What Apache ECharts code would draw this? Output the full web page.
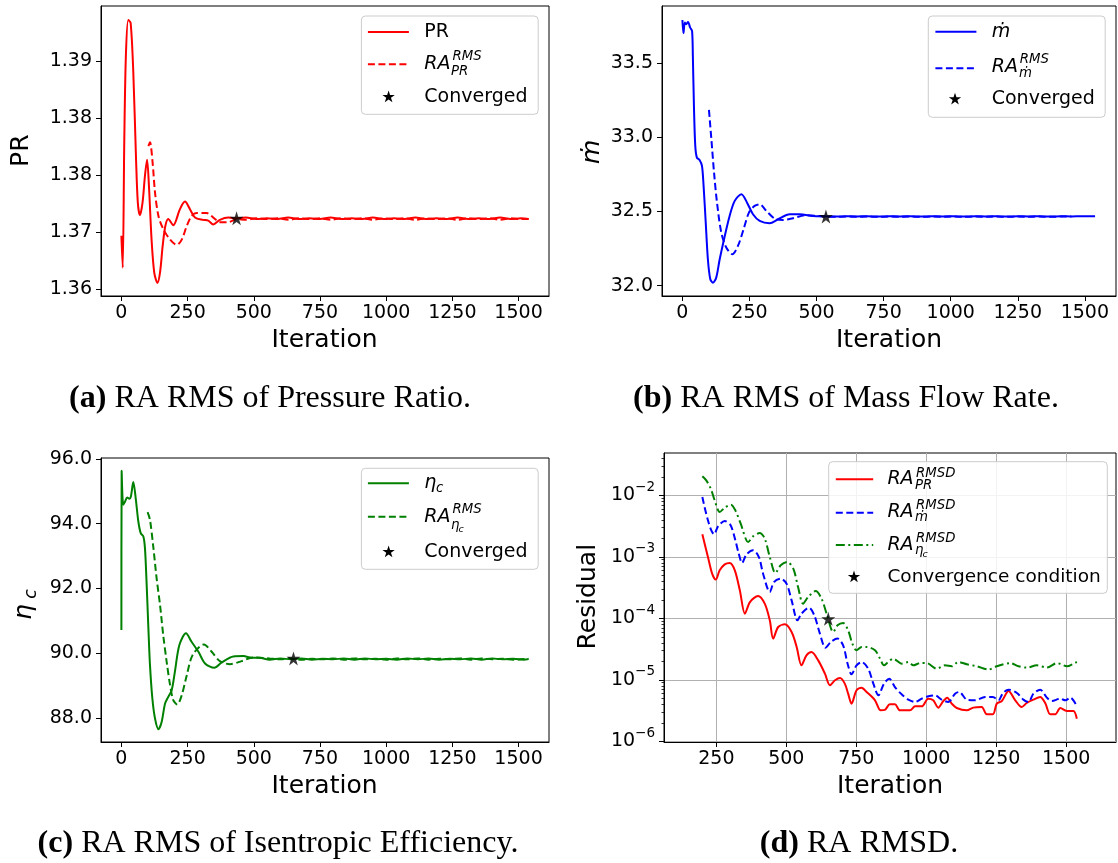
<!DOCTYPE html>
<html><head><meta charset="utf-8">
<script src="https://cdn.jsdelivr.net/npm/echarts@6/dist/echarts.min.js"></script>
<style>html,body{margin:0;padding:0;background:#fff}#c{width:1118px;height:863px}</style>
</head><body><div id="c"></div>
<script>
// ---------- (a) Pressure ratio ----------
const prIter = [0,5,11,17,26,35,45,55,62,70,80,89,97,104,114,124,136,146,156,166,177,196,221,240,259,278,309,328,347,372,404,433,
  470,510,550,590,630,670,710,750,790,830,870,910,950,990,1030,1070,1110,1150,1190,1230,1270,1310,1350,1390,1430,1470,1510,1538];
const prVal = [1.3670,1.3628,1.3797,1.3907,1.3954,1.3950,1.3885,1.3775,1.3714,1.3697,1.3714,1.3749,1.3770,1.3736,1.3665,1.3622,1.3608,1.3622,1.3657,1.3683,1.3692,1.3684,1.3705,1.3715,1.3705,1.3694,1.3691,1.3690,1.3685,1.3691,1.3694,1.3693,
  1.3694,1.3692,1.3693,1.3692,1.3694,1.3692,1.3693,1.3692,1.3694,1.3692,1.3693,1.3692,1.3694,1.3692,1.3693,1.3692,1.3694,1.3692,1.3693,1.3692,1.3694,1.3692,1.3693,1.3692,1.3694,1.3692,1.3693,1.3692];
const raPrIter = [102,108,118,127,140,158,184,209,228,247,265,284,322,347,372,404,436,
  470,510,550,590,630,670,710,750,790,830,870,910,950,990,1030,1070,1110,1150,1190,1230,1270,1310,1350,1390,1430,1470,1510,1538];
const raPrVal = [1.3788,1.3793,1.3766,1.3727,1.3696,1.3679,1.3665,1.3658,1.3665,1.3683,1.3696,1.3700,1.3700,1.3694,1.3688,1.3688,1.3692,
  1.3691,1.3693,1.3692,1.3693,1.3691,1.3693,1.3692,1.3693,1.3691,1.3693,1.3692,1.3693,1.3691,1.3693,1.3692,1.3693,1.3691,1.3693,1.3692,1.3693,1.3691,1.3693,1.3692,1.3693,1.3691,1.3693,1.3692,1.3692];
const prConverged = [435, 1.3693];
const prTicks = [1.36, 1.3675, 1.375, 1.3825, 1.39];
const prTickLabels = ['1.36', '1.37', '1.38', '1.38', '1.39'];

// ---------- (b) Mass flow rate ----------
const mIter = [0,4,9,14,21,29,36,39,43,48,54,64,73,79,87,95,104,114,126,139,158,176,195,220,241,263,288,325,357,400,437,487,
  530,570,610,650,690,730,770,810,850,890,930,970,1010,1050,1090,1130,1170,1210,1250,1290,1330,1370,1410,1450,1490,1538];
const mVal = [33.793,33.703,33.775,33.764,33.779,33.741,33.719,33.55,33.213,32.943,32.864,32.848,32.808,32.673,32.425,32.178,32.043,32.02,32.054,32.178,32.335,32.47,32.572,32.617,32.56,32.482,32.437,32.421,32.448,32.482,32.482,32.47,
  32.468,32.466,32.468,32.467,32.468,32.466,32.468,32.467,32.468,32.466,32.468,32.467,32.468,32.466,32.468,32.467,32.468,32.466,32.468,32.467,32.468,32.466,32.468,32.467,32.468,32.468];
const raMIter = [99,108,118,129,145,164,186,207,228,248,269,288,313,344,375,412,462,506,
  530,570,610,650,690,730,770,810,850,890,930,970,1010,1050,1090,1130,1170,1210,1250,1290,1330,1370,1410,1450,1490,1538];
const raMVal = [33.186,32.988,32.762,32.56,32.358,32.256,32.212,32.268,32.38,32.493,32.538,32.549,32.504,32.452,32.443,32.455,32.475,32.47,
  32.466,32.465,32.466,32.465,32.466,32.465,32.466,32.465,32.466,32.465,32.466,32.465,32.466,32.465,32.466,32.465,32.466,32.465,32.466,32.465,32.466,32.465,32.466,32.466];
const mConverged = [535, 32.466];
const mTicks = [32.0, 32.5, 33.0, 33.5];
const mTickLabels = ['32.0', '32.5', '33.0', '33.5'];

// ---------- (c) Isentropic efficiency ----------
const etaIter = [0,1,7,14,22,30,36,45,54,64,73,83,89,95,102,108,117,127,140,152,165,177,190,202,219,244,265,291,316,351,379,423,461,492,521,
  560,600,640,680,720,760,800,840,880,920,960,1000,1040,1080,1120,1160,1200,1240,1280,1320,1360,1400,1440,1480,1520,1538];
const etaVal = [90.72,95.64,94.585,94.687,94.811,94.771,94.842,95.288,94.792,94.068,93.709,93.604,93.245,92.21,90.768,89.632,88.6,87.981,87.65,87.876,88.446,88.65,88.858,89.424,90.251,90.613,90.353,90.043,89.684,89.548,89.715,89.901,89.91,89.858,89.858,
  89.80,89.84,89.81,89.84,89.80,89.83,89.81,89.84,89.80,89.84,89.81,89.83,89.80,89.84,89.81,89.84,89.80,89.83,89.81,89.84,89.80,89.84,89.81,89.83,89.80,89.82];
const raEtaIter = [99,108,121,133,146,158,171,184,196,211,228,247,269,312,341,372,410,454,498,
  560,600,640,680,720,760,800,840,880,920,960,1000,1040,1080,1120,1160,1200,1240,1280,1320,1360,1400,1440,1480,1520,1538];
const raEtaVal = [94.359,94.121,93.245,92.316,91.489,90.56,89.734,89.012,88.548,88.415,88.703,89.322,89.941,90.272,90.043,89.755,89.662,89.755,89.869,
  89.84,89.81,89.84,89.80,89.83,89.81,89.84,89.80,89.84,89.81,89.83,89.80,89.84,89.81,89.84,89.80,89.83,89.81,89.84,89.80,89.84,89.81,89.83,89.80,89.82,89.83];
const etaConverged = [650, 89.84];
const etaTicks = [88, 90, 92, 94, 96];
const etaTickLabels = ['88.0', '90.0', '92.0', '94.0', '96.0'];

// ---------- (d) RA RMSD residuals ----------
const rmsdPrIter = [200,220,235,248,262,280,298,316,334,352,370,399,423,441,453,471,495,519,537,554,572,590,614,638,656,674,692,709,721,733,751,769,787,817,837,852,870,888,906,942,960,984,1007,1025,1043,1061,1075,1091,1109,1145,1168,1198,1216,1238,1252,1270,1294,1318,1341,1359,1383,1407,1425,1443,1461,1479,1502,1526,1538];
const rmsdPrVal = [2.32e-3,9.93e-4,5.32e-4,4.26e-4,6.03e-4,7.55e-4,7.94e-4,6.03e-4,2.85e-4,1.19e-4,1.84e-4,2.31e-4,1.73e-4,9.27e-5,4.68e-5,7.23e-5,7.98e-5,5.98e-5,3.42e-5,1.72e-5,2.5e-5,2.83e-5,2.07e-5,1.26e-5,8.15e-6,9.82e-6,1.07e-5,8.67e-6,5.96e-6,4.1e-6,6.75e-6,7.46e-6,6.34e-6,4.65e-6,3.19e-6,3.24e-6,4.0e-6,4.0e-6,3.19e-6,3.19e-6,3.71e-6,3.71e-6,4.94e-6,4.65e-6,3.53e-6,4.53e-6,5.13e-6,4.1e-6,3.48e-6,3.19e-6,3.53e-6,3.61e-6,2.75e-6,2.75e-6,4.1e-6,4.53e-6,6.58e-6,4.65e-6,3.61e-6,4.2e-6,4.76e-6,5.26e-6,4.2e-6,2.75e-6,2.75e-6,3.48e-6,3.11e-6,3.11e-6,2.33e-6];
const rmsdMIter = [200,208,220,232,242,256,280,301,318,330,342,358,381,402,417,441,456,480,501,519,540,554,581,600,620,640,659,683,703,719,733,751,769,793,811,829,849,868,888,912,936,960,984,1008,1031,1055,1079,1103,1118,1145,1175,1210,1238,1258,1274,1294,1324,1347,1365,1383,1407,1431,1449,1479,1497,1515,1538];
const rmsdMVal = [9.4e-3,6.46e-3,3.92e-3,2.7e-3,2.32e-3,3.13e-3,3.83e-3,3.25e-3,1.85e-3,1.13e-3,7.94e-4,1.1e-3,1.28e-3,9.93e-4,5.32e-4,2.68e-4,3.89e-4,4.42e-4,3.66e-4,1.96e-4,9.27e-5,1.19e-4,1.49e-4,1.12e-4,5.64e-5,3.33e-5,4.12e-5,4.68e-5,3.64e-5,1.83e-5,1.23e-5,1.72e-5,1.95e-5,1.51e-5,8.67e-6,5.6e-6,8.67e-6,1.04e-5,7.64e-6,5.81e-6,4.76e-6,4.36e-6,4.94e-6,5.4e-6,5.6e-6,4.76e-6,4.36e-6,5.96e-6,6.34e-6,4.76e-6,4.65e-6,5.26e-6,5.26e-6,4.65e-6,6.1e-6,6.92e-6,6.1e-6,4.76e-6,4.36e-6,5.96e-6,6.92e-6,5.13e-6,4.53e-6,4.94e-6,4.65e-6,5.13e-6,3.71e-6];
const rmsdEtaIter = [200,214,230,244,262,280,302,318,337,364,381,405,423,441,461,480,504,525,542,560,578,605,626,644,668,683,703,721,736,751,769,787,817,835,849,864,882,912,936,954,978,1002,1037,1067,1091,1115,1145,1181,1222,1252,1300,1330,1359,1395,1431,1467,1503,1526,1538];
const rmsdEtaVal = [2.04e-2,1.75e-2,1.29e-2,8.3e-3,5.36e-3,6.31e-3,7.06e-3,5.7e-3,3.47e-3,1.74e-3,2.15e-3,2.44e-3,1.98e-3,9.93e-4,5.46e-4,7.28e-4,8.24e-4,6.43e-4,3.23e-4,1.73e-4,2.22e-4,2.78e-4,2.09e-4,1.19e-4,5.98e-5,7.69e-5,8.39e-5,6.38e-5,3.88e-5,3.02e-5,3.42e-5,3.42e-5,3.02e-5,2.21e-5,1.72e-5,1.95e-5,2.21e-5,1.83e-5,1.95e-5,1.72e-5,1.87e-5,1.87e-5,1.52e-5,1.72e-5,1.66e-5,1.95e-5,1.79e-5,1.66e-5,1.47e-5,1.66e-5,1.87e-5,1.66e-5,1.58e-5,1.72e-5,1.58e-5,1.87e-5,1.66e-5,1.83e-5,1.95e-5];
const rmsdConverged = [650, 9.8e-5];
const logTicks = [1e-6, 1e-5, 1e-4, 1e-3, 1e-2];
const logTickExponents = ['−6', '−5', '−4', '−3', '−2'];
const logMinorTicks = [2e-6,3e-6,4e-6,5e-6,6e-6,7e-6,8e-6,9e-6,2e-5,3e-5,4e-5,5e-5,6e-5,7e-5,8e-5,9e-5,2e-4,3e-4,4e-4,5e-4,6e-4,7e-4,8e-4,9e-4,2e-3,3e-3,4e-3,5e-3,6e-3,7e-3,8e-3,9e-3,2e-2,3e-2,4e-2];

const iterTicks = [0, 250, 500, 750, 1000, 1250, 1500];
const iterTicksD = [250, 500, 750, 1000, 1250, 1500];

// ---------- helpers ----------
const F = 'DejaVu Sans';
const RED = '#ff0000', BLUE = '#0000ff', GREEN = '#008000';
const STAR_D = 'M50,0L61.2,34.5L97.6,34.5L68.2,55.9L79.4,90.5L50,69.1L20.6,90.5L31.8,55.9L2.4,34.5L38.8,34.5Z';
const STAR_PTS = [[50,0],[61.2,34.5],[97.6,34.5],[68.2,55.9],[79.4,90.5],[50,69.1],[20.6,90.5],[31.8,55.9],[2.4,34.5],[38.8,34.5]];
const zip = (a, b) => a.map((v, i) => [v, b[i]]);
const idxOf = (ticks, v, log) => ticks.findIndex(t => log ? Math.abs(Math.log10(v) - Math.log10(t)) < 1e-6 : Math.abs(v - t) < 1e-7);
const lab = (ticks, labels) => v => { const i = idxOf(ticks, v, false); return i < 0 ? '' : labels[i]; };
const logLab = v => { const i = idxOf(logTicks, v, true); return i < 0 ? '' : '{b|10}{e|' + logTickExponents[i] + '}'; };
const tickStyle = { length: 5, lineStyle: { color: '#000', width: 1 } };
const labStyle = { fontSize: 19, fontFamily: F, color: '#000' };
const axLine = { show: true, onZero: false, lineStyle: { color: '#000', width: 1 } };

function xAxis(g, min, max, ticks, grid) {
  return {
    type: 'value', gridIndex: g, min, max, position: 'bottom',
    axisLine: axLine,
    axisTick: Object.assign({ show: true, customValues: ticks }, tickStyle),
    axisLabel: Object.assign({ customValues: ticks, margin: 8, formatter: v => String(Math.round(v)) }, labStyle),
    splitLine: { show: !!grid, lineStyle: { color: '#b0b0b0', width: 1 } }
  };
}
function yAxis(g, min, max, ticks, formatter, type, grid, rich) {
  const al = Object.assign({ customValues: ticks, margin: 9, formatter }, labStyle);
  if (rich) al.rich = rich;
  return {
    type: type || 'value', gridIndex: g, min, max, position: 'left',
    axisLine: axLine,
    axisTick: Object.assign({ show: true, customValues: ticks }, tickStyle),
    axisLabel: al,
    splitLine: { show: !!grid, lineStyle: { color: '#b0b0b0', width: 1 } }
  };
}
function line(xi, yi, data, color, dash) {
  return {
    type: 'line', xAxisIndex: xi, yAxisIndex: yi, data, symbol: 'none', smooth: 0.3,
    lineStyle: { color, width: 2, type: dash || 'solid' }, z: 3, animation: false
  };
}
function star(xi, yi, pt) {
  return {
    type: 'scatter', xAxisIndex: xi, yAxisIndex: yi, data: [pt], symbol: 'path://' + STAR_D,
    symbolSize: 14, itemStyle: { color: '#000' }, z: 5, animation: false
  };
}
const DASH = [7, 3.5];
const DASHDOT = [9, 3.5, 2, 3.5];

// graphic helpers
function T(x, y, text, size, o) {
  o = o || {};
  const st = {
    text, fontSize: size, fontFamily: o.family || F, fontStyle: o.italic ? 'italic' : 'normal',
    fontWeight: o.bold ? 'bold' : 'normal', fill: '#000',
    textAlign: o.align || 'left', textVerticalAlign: 'middle'
  };
  if (o.rich) st.rich = o.rich;
  return { type: 'text', x, y, rotation: o.rot || 0, z: 100, style: st };
}
function L(x1, x2, y, color, dash) {
  const st = { stroke: color, lineWidth: 2 };
  if (dash) st.lineDash = dash;
  return { type: 'line', z: 100, shape: { x1, y1: y, x2, y2: y }, style: st };
}
function S(cx, cy) {
  const k = 0.13;
  return { type: 'polygon', z: 100, shape: { points: STAR_PTS.map(p => [cx + (p[0] - 50) * k, cy + (p[1] - 48) * k]) }, style: { fill: '#000' } };
}
function BOX(x, y, w, h) {
  return { type: 'rect', z: 99, shape: { x, y, width: w, height: h, r: 4 }, style: { fill: 'rgba(255,255,255,0.85)', stroke: '#cccccc', lineWidth: 1 } };
}
const SUP = 13.3, SUB = 13.3;
const CAP = 32;
const capRich = { b: { fontWeight: 'bold', fontFamily: 'Liberation Serif', fontSize: CAP } };

const graphics = [
  // ---- legend (a)
  BOX(361.4, 16, 176.8, 98.3),
  L(367.9, 408.9, 32, RED), T(424.3, 32, 'PR', 19),
  L(367.9, 408.9, 64.3, RED, DASH), T(424.3, 63.7, 'RA', 19, { italic: 1 }), T(452.5, 57, 'RMS', SUP, { italic: 1 }), T(451, 71.5, 'PR', SUB, { italic: 1 }),
  S(388.6, 96.7), T(424.3, 96.7, 'Converged', 19),
  // ---- legend (b)
  BOX(928.3, 16, 176.9, 101.3),
  L(935.4, 976.4, 31.7, BLUE), T(991.7, 31.7, 'ṁ', 19, { italic: 1 }),
  L(935.4, 976.4, 68.3, BLUE, DASH), T(991.7, 66.7, 'RA', 19, { italic: 1 }), T(1019.8, 60, 'RMS', SUP, { italic: 1 }), T(1019, 73.5, 'ṁ', SUB, { italic: 1 }),
  S(955, 99), T(991.7, 99, 'Converged', 19),
  // ---- legend (c)
  BOX(361.4, 468.3, 176.8, 101),
  L(367.9, 408.9, 483.3, GREEN), T(424.3, 483.3, 'η', 19, { italic: 1 }), T(436, 489, 'c', SUB, { italic: 1 }),
  L(367.9, 408.9, 516.7, GREEN, DASH), T(424.3, 516.7, 'RA', 19, { italic: 1 }), T(452.5, 510, 'RMS', SUP, { italic: 1 }), T(451, 526, 'η', SUB, { italic: 1 }), T(458.5, 530, 'c', 9.5, { italic: 1 }),
  S(388.6, 551.7), T(424.3, 551.7, 'Converged', 19),
  // ---- legend (d)
  BOX(828.7, 461.7, 278.6, 131.6),
  L(835.8, 873.2, 479.3, RED), T(887.4, 479.2, 'RA', 19, { italic: 1 }), T(916, 473.5, 'RMSD', SUP, { italic: 1 }), T(915, 485.5, 'PR', SUB, { italic: 1 }),
  L(835.8, 873.2, 512.7, BLUE, DASH), T(887.4, 512.5, 'RA', 19, { italic: 1 }), T(916, 505.8, 'RMSD', SUP, { italic: 1 }), T(915, 517.5, 'ṁ', SUB, { italic: 1 }),
  L(835.8, 873.2, 545, GREEN, DASHDOT), T(887.4, 545, 'RA', 19, { italic: 1 }), T(916, 538.8, 'RMSD', SUP, { italic: 1 }), T(915, 550.5, 'η', SUB, { italic: 1 }), T(922.5, 554.5, 'c', 9.5, { italic: 1 }),
  S(854, 576.7), T(887.4, 576.7, 'Convergence condition', 18.5),
  // ---- axis titles
  T(324.5, 340.5, 'Iteration', 25, { align: 'center' }),
  T(889, 340.5, 'Iteration', 25, { align: 'center' }),
  T(324.5, 786.5, 'Iteration', 25, { align: 'center' }),
  T(890, 786.5, 'Iteration', 25, { align: 'center' }),
  T(21.4, 150.7, 'PR', 25, { align: 'center', rot: Math.PI / 2 }),
  T(592, 151.7, 'ṁ', 25, { align: 'center', rot: Math.PI / 2, italic: 1 }),
  T(24, 612, 'η', 25, { align: 'center', rot: Math.PI / 2, italic: 1 }),
  T(31, 594, 'c', 17.5, { align: 'center', rot: Math.PI / 2, italic: 1 }),
  T(588.5, 596.7, 'Residual', 25, { align: 'center', rot: Math.PI / 2 }),
  // ---- captions
  T(270, 399, '{b|(a)} RA RMS of Pressure Ratio.', CAP, { align: 'center', family: 'Liberation Serif', rich: capRich }),
  T(846, 399, '{b|(b)} RA RMS of Mass Flow Rate.', CAP, { align: 'center', family: 'Liberation Serif', rich: capRich }),
  T(278, 844, '{b|(c)} RA RMS of Isentropic Efficiency.', CAP, { align: 'center', family: 'Liberation Serif', rich: capRich }),
  T(859, 844, '{b|(d)} RA RMSD.', CAP, { align: 'center', family: 'Liberation Serif', rich: capRich })
];

const gridStyle = { show: true, borderColor: '#000', borderWidth: 1, backgroundColor: 'transparent', containLabel: false };
const logRich = {
  b: { fontSize: 19, fontFamily: F, color: '#000', lineHeight: 30 },
  e: { fontSize: 13.5, fontFamily: F, color: '#000', lineHeight: 14, verticalAlign: 'top' }
};
const option = {
  animation: false,
  backgroundColor: '#fff',
  grid: [
    Object.assign({ left: 101, top: 6, width: 448, height: 290 }, gridStyle),
    Object.assign({ left: 662, top: 6, width: 454, height: 290 }, gridStyle),
    Object.assign({ left: 101, top: 458, width: 448, height: 284 }, gridStyle),
    Object.assign({ left: 664, top: 453, width: 452, height: 289 }, gridStyle)
  ],
  xAxis: [
    xAxis(0, -77, 1615, iterTicks),
    xAxis(1, -76, 1616, iterTicks),
    xAxis(2, -77, 1615, iterTicks),
    xAxis(3, 63, 1678, iterTicksD, true)
  ],
  yAxis: [
    yAxis(0, 1.35908, 1.39724, prTicks, lab(prTicks, prTickLabels)),
    yAxis(1, 31.930, 33.887, mTicks, lab(mTicks, mTickLabels)),
    yAxis(2, 87.257, 96.03, etaTicks, lab(etaTicks, etaTickLabels)),
    yAxis(3, 9.75e-7, 0.0488, logTicks, logLab, 'log', true, logRich),
    {
      type: 'log', gridIndex: 3, min: 9.75e-7, max: 0.0488, position: 'left',
      axisLine: { show: false, onZero: false }, axisLabel: { show: false }, splitLine: { show: false },
      axisTick: { show: true, customValues: logMinorTicks, length: 2.5, lineStyle: { color: '#000', width: 0.8 } }
    }
  ],
  series: [
    line(0, 0, zip(prIter, prVal), RED),
    line(0, 0, zip(raPrIter, raPrVal), RED, DASH),
    star(0, 0, prConverged),
    line(1, 1, zip(mIter, mVal), BLUE),
    line(1, 1, zip(raMIter, raMVal), BLUE, DASH),
    star(1, 1, mConverged),
    line(2, 2, zip(etaIter, etaVal), GREEN),
    line(2, 2, zip(raEtaIter, raEtaVal), GREEN, DASH),
    star(2, 2, etaConverged),
    line(3, 3, zip(rmsdPrIter, rmsdPrVal), RED),
    line(3, 3, zip(rmsdMIter, rmsdMVal), BLUE, DASH),
    line(3, 3, zip(rmsdEtaIter, rmsdEtaVal), GREEN, DASHDOT),
    star(3, 3, rmsdConverged)
  ],
  graphic: { elements: graphics }
};
const chart = echarts.init(document.getElementById('c'), null, { renderer: 'canvas' });
chart.setOption(option);
</script>
</body></html>
